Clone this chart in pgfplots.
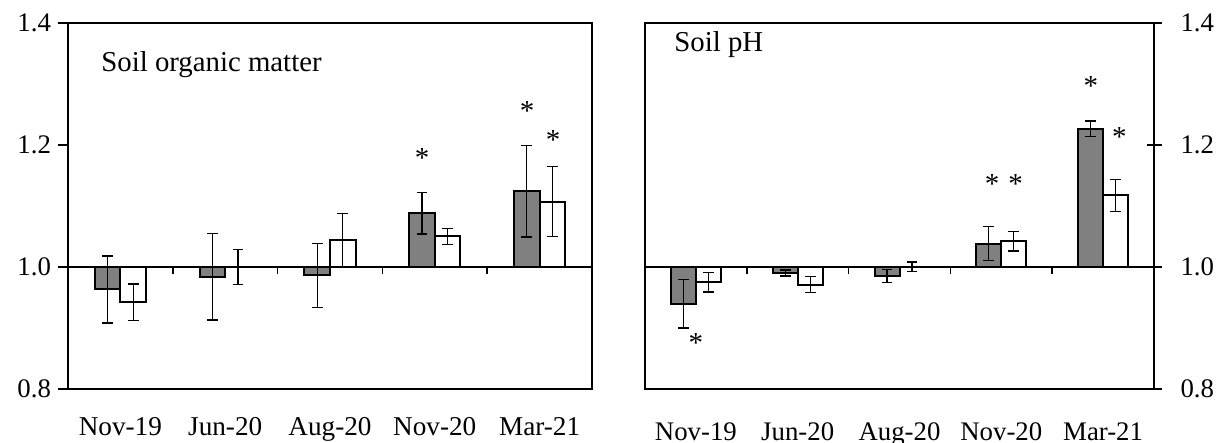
\documentclass[border=0pt]{standalone}
\usepackage{fontspec}
\setmainfont{Liberation Serif}
\usepackage{pgfplots}
\pgfplotsset{compat=1.18}
\pgfplotsset{
  common/.style={
    scale only axis, height=183.15pt,
    xmin=-0.5, xmax=4.5, ymin=0.8, ymax=1.4,
    y coord trafo/.code={\pgfmathparse{##1-1}},
    y coord inv trafo/.code={\pgfmathparse{##1+1}},
    ybar, bar width=0.245,
    ytick={0.8,1.0,1.2,1.4},
    /pgf/number format/assume math mode=true,
    yticklabel style={/pgf/number format/fixed, /pgf/number format/fixed zerofill, /pgf/number format/precision=1, font=\fontsize{13.4}{15}\selectfont},
    xtick={0,1,2,3,4}, xticklabels={Nov-19,Jun-20,Aug-20,Nov-20,Mar-21},
    x tick style={draw=none},
    axis line style={line width=0.9pt},
    y tick style={line width=0.9pt, black},
    clip=false,
  },
  gbar/.style={bar shift=-0.1225, fill=gray, draw=black, line width=1pt,
    error bars/.cd, y dir=both, y explicit,
    error bar style={line width=0.6pt, black},
    error mark=-,
    error mark options={rotate=90, mark size=2.7pt, line width=0.6pt, black}},
  wbar/.style={bar shift=0.1225, fill=white, draw=black, line width=1pt,
    error bars/.cd, y dir=both, y explicit,
    error bar style={line width=0.6pt, black},
    error mark=-,
    error mark options={rotate=90, mark size=2.7pt, line width=0.6pt, black}},
  ast/.style={sharp plot, bar shift=0pt, only marks, mark=text, text mark={\fontsize{14.5}{16}\selectfont *}},
}
\newcommand\basetick[1]{\draw[line width=0.8pt] (axis cs:#1,1) -- ([yshift=-3.5pt]axis cs:#1,1);}
\begin{document}
\begin{tikzpicture}
\useasboundingbox (0,0) rectangle (610pt,221.5pt);
% ---------- Left: Soil organic matter ----------
\begin{axis}[common, at={(34pt,27pt)}, anchor=south west, width=262pt,
  ytick pos=left, tick align=outside, major tick length=5pt,
  xticklabel style={anchor=base, font=\fontsize{13.6}{15}\selectfont},
  xticklabel shift=0pt,
  every x tick label/.append style={yshift=-18.5pt}]
\addplot[gbar] table[x=x, y=y, y error=e] {
x y e
0 0.963 0.055
1 0.984 0.071
2 0.986 0.052
3 1.088 0.034
4 1.124 0.075
};
\addplot[wbar] table[x=x, y=y, y error=e] {
x y e
0 0.942 0.030
1 1.000 0.029
2 1.044 0.044
3 1.050 0.013
4 1.107 0.057
};
\addplot[ast] coordinates {(2.88,1.179) (3.88,1.255) (4.13,1.208)};
\draw[line width=1pt] (axis cs:-0.5,1) -- (axis cs:4.5,1);
\basetick{0.5}\basetick{1.5}\basetick{2.5}\basetick{3.5}
\end{axis}
% ---------- Right: Soil pH ----------
\begin{axis}[common, at={(322.5pt,27pt)}, anchor=south west, width=254.5pt,
  ytick pos=right, yticklabel pos=right, tick align=center, major tick length=7.5pt,
  yticklabel style={xshift=6pt},
  xticklabel style={anchor=base, font=\fontsize{13.4}{15}\selectfont},
  every x tick label/.append style={yshift=-22pt}]
\addplot[gbar] table[x=x, y=y, y error=e] {
x y e
0 0.940 0.040
1 0.990 0.005
2 0.985 0.011
3 1.038 0.028
4 1.226 0.013
};
\addplot[wbar] table[x=x, y=y, y error=e] {
x y e
0 0.975 0.016
1 0.971 0.013
2 1.000 0.008
3 1.042 0.016
4 1.117 0.026
};
\addplot[ast] coordinates {(0.0,0.875) (2.91,1.136) (3.14,1.136) (3.88,1.296) (4.16,1.213)};
\draw[line width=1pt] (axis cs:-0.5,1) -- (axis cs:4.5,1);
\basetick{0.5}\basetick{1.5}\basetick{2.5}\basetick{3.5}
\end{axis}
% titles
\node[anchor=base west, inner sep=0pt, font=\fontsize{14.4}{17}\selectfont] at (50.5pt,185.6pt) {Soil organic matter};
\node[anchor=base west, inner sep=0pt, font=\fontsize{14.4}{17}\selectfont] at (337pt,195.5pt) {Soil pH};
\end{tikzpicture}
\end{document}
